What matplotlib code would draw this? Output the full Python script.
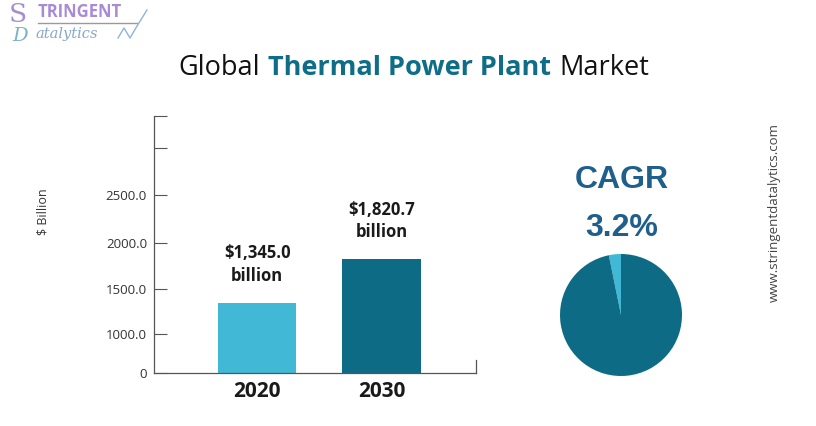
import matplotlib
matplotlib.use("Agg")
import matplotlib.pyplot as plt
import numpy as np

# ---------------- data ----------------
years = ["2020", "2030"]
values = [1345.0, 1820.7]
value_labels = ["$1,345.0\nbillion", "$1,820.7\nbillion"]
tick_values = [0, 1000, 1500, 2000, 2500, 3000, 3500]
tick_labels = ["0", "1000.0", "1500.0", "2000.0", "2500.0", "", ""]
cagr = 3.2
pie_values = [cagr, 100 - cagr]

# ---------------- style ----------------
W, H = 816, 426
fig = plt.figure(figsize=(W / 100, H / 100), dpi=100)
fig.patch.set_facecolor("white")
FONT = "Open Sans"
LIGHT = "#41b8d5"
DARK = "#0e6b85"
AXC = "#555555"

# the infographic's axis is not evenly spaced: map tick values onto its spacing
tick_vis = [0, 39, 84, 130, 178, 225, 257]


def fwd(v):
    return np.interp(v, tick_values, tick_vis)


def inv(v):
    return np.interp(v, tick_vis, tick_values)


def px(x0, y0, x1, y1):
    return [x0 / W, 1 - y1 / H, (x1 - x0) / W, (y1 - y0) / H]


# ---------------- bar chart ----------------
ax = fig.add_axes(px(154, 116, 476, 373))
ax.set_yscale("function", functions=(fwd, inv))
x = np.arange(len(years))
bars = ax.bar(x, values, width=0.63, color=[LIGHT, DARK], zorder=2)
ax.set_xlim(-0.83, 1.76)
ax.set_ylim(0, 3500)
ax.set_yticks(tick_values)
ax.set_yticklabels(tick_labels, fontfamily=FONT, fontsize=9.5, color="#333333")
ax.yaxis.set_minor_locator(matplotlib.ticker.NullLocator())
ax.set_xticks(x)
ax.set_xticklabels(years, fontfamily=FONT, fontsize=15, fontweight="bold", color="#1a1a1a")
ax.tick_params(axis="y", direction="in", length=9, width=0.8, color=AXC, pad=5)
ax.tick_params(axis="x", length=0, pad=6)
ax.spines["top"].set_visible(False)
for s in ["left", "bottom", "right"]:
    ax.spines[s].set_color(AXC)
    ax.spines[s].set_linewidth(0.9)
ax.spines["right"].set_bounds(0, inv(13))
ax.set_facecolor("none")

for b, lab in zip(bars, value_labels):
    ax.annotate(lab, xy=(b.get_x() + b.get_width() / 2, b.get_height()),
                xytext=(0, 13), textcoords="offset points", ha="center", va="bottom",
                fontfamily=FONT, fontsize=12, fontweight="bold", color="#1a1a1a",
                linespacing=1.35)

fig.text(43 / W, 1 - 212 / H, "$ Billion", rotation=90, ha="center", va="center",
         fontfamily=FONT, fontsize=9, color="#333333")

# ---------------- CAGR pie ----------------
pax = fig.add_axes(px(621 - 61, 315 - 61, 621 + 61, 315 + 61))
pax.pie(pie_values, colors=[LIGHT, DARK], startangle=90, counterclock=True,
        wedgeprops=dict(linewidth=0))
pax.set_aspect("equal")
pax.set_xlim(-1, 1)
pax.set_ylim(-1, 1)

fig.text(622 / W, 1 - 180 / H, "CAGR", ha="center", va="center",
         fontfamily="Liberation Sans", fontsize=23, fontweight="bold", color="#1f5f8b")
fig.text(622 / W, 1 - 228 / H, f"{cagr}%", ha="center", va="center",
         fontfamily="Liberation Sans", fontsize=23, fontweight="bold", color="#1f5f8b")

# ---------------- website ----------------
fig.text(774 / W, 1 - 212 / H, "www.stringentdatalytics.com", rotation=90,
         ha="center", va="center", fontfamily=FONT, fontsize=9.5, color="#444444")

# ---------------- title (mixed styles) ----------------
base_y = 1 - 75 / H
parts = [("Global", "normal", "#111111"),
         ("Thermal Power Plant", "bold", "#0e6e87"),
         ("Market", "normal", "#111111")]
texts = [fig.text(0, base_y, p, fontfamily=FONT, fontsize=19.5, fontweight=w, color=c,
                  va="baseline", ha="left") for p, w, c in parts]
fig.canvas.draw()
r = fig.canvas.get_renderer()
widths = [t.get_window_extent(r).width for t in texts]
gap = 8
total = sum(widths) + gap * (len(widths) - 1)
xpos = 414 - total / 2
for t, wdt in zip(texts, widths):
    t.set_x(xpos / W)
    xpos += wdt + gap

# ---------------- logo ----------------
fig.text(9 / W, 1 - 14 / H, "S", fontfamily="DejaVu Serif", fontsize=19, color="#a58fd0",
         va="center", ha="left")
fig.text(12 / W, 1 - 36 / H, "D", fontfamily="DejaVu Serif", fontsize=14, color="#78b4c4",
         va="center", ha="left", style="italic")
fig.text(38 / W, 1 - 12 / H, "TRINGENT", fontfamily=FONT, fontsize=12, fontweight="bold",
         color="#a88ad6", va="center", ha="left")
fig.add_artist(plt.Line2D([38 / W, 137 / W], [1 - 23 / H, 1 - 23 / H], color="#9a9a9a", lw=1))
fig.text(36 / W, 1 - 34 / H, "atalytics", fontfamily="DejaVu Serif", fontsize=10.5,
         style="italic", color="#86a9c9", va="center", ha="left")
fig.add_artist(plt.Line2D([118 / W, 124 / W, 130 / W, 137 / W, 147 / W],
                          [1 - 38 / H, 1 - 28 / H, 1 - 38 / H, 1 - 26 / H, 1 - 10 / H],
                          color="#8fb3d9", lw=1))

fig.savefig("out.png", dpi=100, facecolor="white")
